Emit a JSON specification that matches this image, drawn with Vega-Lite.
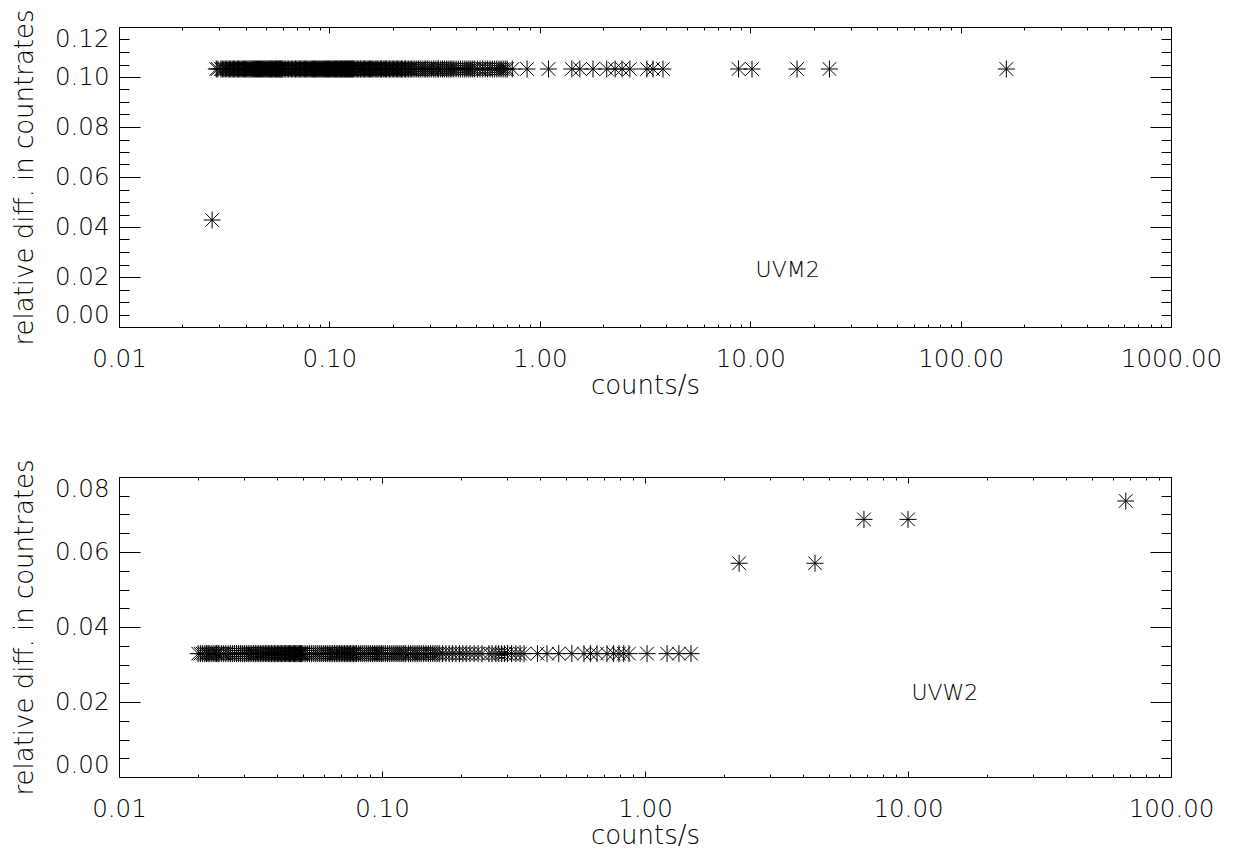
{
  "$schema": "https://vega.github.io/schema/vega-lite/v6.json",
  "background": "white",
  "padding": {"left": 11, "top": 8, "right": 5, "bottom": 5},
  "bounds": "flush",
  "spacing": 150,
  "config": {
    "view": {"stroke": null},
    "font": "DejaVu Sans",
    "axis": {
      "grid": false,
      "domainColor": "black",
      "domainWidth": 1,
      "tickColor": "black",
      "tickWidth": 1,
      "labelColor": "black",
      "titleColor": "black",
      "labelFont": "DejaVu Sans",
      "titleFont": "DejaVu Sans",
      "labelFontSize": 24.5,
      "titleFontSize": 26,
      "labelFontWeight": 200,
      "titleFontWeight": 200,
      "labelOverlap": false
    }
  },
  "datasets": {
    "uvm2": [
      {"cr": 0.0277, "rd": 0.0428},
      {"cr": 0.029, "rd": 0.1032}, {"cr": 0.0305, "rd": 0.1032}, {"cr": 0.031, "rd": 0.1032}, {"cr": 0.032, "rd": 0.1032},
      {"cr": 0.033, "rd": 0.1032}, {"cr": 0.034, "rd": 0.1032}, {"cr": 0.035, "rd": 0.1032}, {"cr": 0.036, "rd": 0.1032},
      {"cr": 0.037, "rd": 0.1032}, {"cr": 0.038, "rd": 0.1032}, {"cr": 0.039, "rd": 0.1032}, {"cr": 0.040, "rd": 0.1032},
      {"cr": 0.041, "rd": 0.1032}, {"cr": 0.042, "rd": 0.1032}, {"cr": 0.043, "rd": 0.1032}, {"cr": 0.044, "rd": 0.1032},
      {"cr": 0.045, "rd": 0.1032}, {"cr": 0.046, "rd": 0.1032}, {"cr": 0.047, "rd": 0.1032}, {"cr": 0.048, "rd": 0.1032},
      {"cr": 0.049, "rd": 0.1032}, {"cr": 0.050, "rd": 0.1032}, {"cr": 0.051, "rd": 0.1032}, {"cr": 0.052, "rd": 0.1032},
      {"cr": 0.053, "rd": 0.1032}, {"cr": 0.054, "rd": 0.1032}, {"cr": 0.055, "rd": 0.1032}, {"cr": 0.056, "rd": 0.1032},
      {"cr": 0.057, "rd": 0.1032}, {"cr": 0.058, "rd": 0.1032}, {"cr": 0.059, "rd": 0.1032}, {"cr": 0.060, "rd": 0.1032},
      {"cr": 0.062, "rd": 0.1032}, {"cr": 0.063, "rd": 0.1032}, {"cr": 0.064, "rd": 0.1032}, {"cr": 0.066, "rd": 0.1032},
      {"cr": 0.067, "rd": 0.1032}, {"cr": 0.068, "rd": 0.1032}, {"cr": 0.070, "rd": 0.1032}, {"cr": 0.071, "rd": 0.1032},
      {"cr": 0.072, "rd": 0.1032}, {"cr": 0.074, "rd": 0.1032}, {"cr": 0.075, "rd": 0.1032}, {"cr": 0.077, "rd": 0.1032},
      {"cr": 0.078, "rd": 0.1032}, {"cr": 0.080, "rd": 0.1032}, {"cr": 0.082, "rd": 0.1032}, {"cr": 0.083, "rd": 0.1032},
      {"cr": 0.085, "rd": 0.1032}, {"cr": 0.087, "rd": 0.1032}, {"cr": 0.089, "rd": 0.1032}, {"cr": 0.091, "rd": 0.1032},
      {"cr": 0.093, "rd": 0.1032}, {"cr": 0.095, "rd": 0.1032}, {"cr": 0.097, "rd": 0.1032}, {"cr": 0.099, "rd": 0.1032},
      {"cr": 0.102, "rd": 0.1032}, {"cr": 0.104, "rd": 0.1032}, {"cr": 0.107, "rd": 0.1032}, {"cr": 0.110, "rd": 0.1032},
      {"cr": 0.112, "rd": 0.1032}, {"cr": 0.115, "rd": 0.1032}, {"cr": 0.118, "rd": 0.1032}, {"cr": 0.121, "rd": 0.1032},
      {"cr": 0.124, "rd": 0.1032}, {"cr": 0.127, "rd": 0.1032}, {"cr": 0.130, "rd": 0.1032}, {"cr": 0.134, "rd": 0.1032},
      {"cr": 0.138, "rd": 0.1032}, {"cr": 0.141, "rd": 0.1032}, {"cr": 0.145, "rd": 0.1032}, {"cr": 0.149, "rd": 0.1032},
      {"cr": 0.153, "rd": 0.1032}, {"cr": 0.157, "rd": 0.1032}, {"cr": 0.161, "rd": 0.1032}, {"cr": 0.166, "rd": 0.1032},
      {"cr": 0.170, "rd": 0.1032}, {"cr": 0.175, "rd": 0.1032}, {"cr": 0.180, "rd": 0.1032}, {"cr": 0.185, "rd": 0.1032},
      {"cr": 0.190, "rd": 0.1032}, {"cr": 0.196, "rd": 0.1032}, {"cr": 0.202, "rd": 0.1032}, {"cr": 0.208, "rd": 0.1032},
      {"cr": 0.214, "rd": 0.1032}, {"cr": 0.220, "rd": 0.1032}, {"cr": 0.227, "rd": 0.1032}, {"cr": 0.234, "rd": 0.1032},
      {"cr": 0.242, "rd": 0.1032}, {"cr": 0.250, "rd": 0.1032}, {"cr": 0.260, "rd": 0.1032}, {"cr": 0.270, "rd": 0.1032},
      {"cr": 0.282, "rd": 0.1032}, {"cr": 0.292, "rd": 0.1032}, {"cr": 0.305, "rd": 0.1032}, {"cr": 0.318, "rd": 0.1032},
      {"cr": 0.330, "rd": 0.1032}, {"cr": 0.345, "rd": 0.1032}, {"cr": 0.36, "rd": 0.1032}, {"cr": 0.375, "rd": 0.1032},
      {"cr": 0.39, "rd": 0.1032}, {"cr": 0.41, "rd": 0.1032}, {"cr": 0.43, "rd": 0.1032}, {"cr": 0.45, "rd": 0.1032},
      {"cr": 0.47, "rd": 0.1032}, {"cr": 0.49, "rd": 0.1032}, {"cr": 0.52, "rd": 0.1032}, {"cr": 0.55, "rd": 0.1032},
      {"cr": 0.58, "rd": 0.1032}, {"cr": 0.61, "rd": 0.1032}, {"cr": 0.64, "rd": 0.1032}, {"cr": 0.67, "rd": 0.1032},
      {"cr": 0.70, "rd": 0.1032}, {"cr": 0.74, "rd": 0.1032}, {"cr": 0.87, "rd": 0.1032}, {"cr": 1.1, "rd": 0.1032},
      {"cr": 1.42, "rd": 0.1032}, {"cr": 1.55, "rd": 0.1032}, {"cr": 1.79, "rd": 0.1032}, {"cr": 2.08, "rd": 0.1032},
      {"cr": 2.28, "rd": 0.1032}, {"cr": 2.46, "rd": 0.1032}, {"cr": 2.68, "rd": 0.1032}, {"cr": 3.23, "rd": 0.1032},
      {"cr": 3.45, "rd": 0.1032}, {"cr": 3.85, "rd": 0.1032}, {"cr": 8.8, "rd": 0.1032}, {"cr": 10.2, "rd": 0.1032},
      {"cr": 16.7, "rd": 0.1032}, {"cr": 23.8, "rd": 0.1032}, {"cr": 165, "rd": 0.1032},
      {"cr": 0.0295, "rd": 0.1032}, {"cr": 0.0315, "rd": 0.1032}, {"cr": 0.0325, "rd": 0.1032}, {"cr": 0.0335, "rd": 0.1032},
      {"cr": 0.0345, "rd": 0.1032}, {"cr": 0.0355, "rd": 0.1032}, {"cr": 0.0365, "rd": 0.1032}, {"cr": 0.0375, "rd": 0.1032},
      {"cr": 0.0385, "rd": 0.1032}, {"cr": 0.0395, "rd": 0.1032}, {"cr": 0.0405, "rd": 0.1032}, {"cr": 0.0415, "rd": 0.1032},
      {"cr": 0.0425, "rd": 0.1032}, {"cr": 0.0435, "rd": 0.1032}, {"cr": 0.0445, "rd": 0.1032}, {"cr": 0.0455, "rd": 0.1032},
      {"cr": 0.0465, "rd": 0.1032}, {"cr": 0.0475, "rd": 0.1032}, {"cr": 0.0485, "rd": 0.1032}, {"cr": 0.0495, "rd": 0.1032},
      {"cr": 0.0505, "rd": 0.1032}, {"cr": 0.0515, "rd": 0.1032}, {"cr": 0.0525, "rd": 0.1032}, {"cr": 0.0535, "rd": 0.1032},
      {"cr": 0.0545, "rd": 0.1032}, {"cr": 0.0555, "rd": 0.1032}, {"cr": 0.0565, "rd": 0.1032}, {"cr": 0.0575, "rd": 0.1032},
      {"cr": 0.0585, "rd": 0.1032}, {"cr": 0.0595, "rd": 0.1032}, {"cr": 0.061, "rd": 0.1032}, {"cr": 0.065, "rd": 0.1032},
      {"cr": 0.069, "rd": 0.1032}, {"cr": 0.073, "rd": 0.1032}, {"cr": 0.076, "rd": 0.1032}, {"cr": 0.079, "rd": 0.1032},
      {"cr": 0.081, "rd": 0.1032}, {"cr": 0.084, "rd": 0.1032}, {"cr": 0.086, "rd": 0.1032}, {"cr": 0.088, "rd": 0.1032},
      {"cr": 0.090, "rd": 0.1032}, {"cr": 0.092, "rd": 0.1032}, {"cr": 0.094, "rd": 0.1032}, {"cr": 0.096, "rd": 0.1032},
      {"cr": 0.098, "rd": 0.1032}, {"cr": 0.100, "rd": 0.1032}, {"cr": 0.101, "rd": 0.1032}, {"cr": 0.103, "rd": 0.1032},
      {"cr": 0.105, "rd": 0.1032}, {"cr": 0.106, "rd": 0.1032}, {"cr": 0.108, "rd": 0.1032}, {"cr": 0.109, "rd": 0.1032},
      {"cr": 0.111, "rd": 0.1032}, {"cr": 0.113, "rd": 0.1032}, {"cr": 0.114, "rd": 0.1032}, {"cr": 0.116, "rd": 0.1032},
      {"cr": 0.117, "rd": 0.1032}, {"cr": 0.119, "rd": 0.1032}, {"cr": 0.120, "rd": 0.1032}, {"cr": 0.122, "rd": 0.1032},
      {"cr": 0.123, "rd": 0.1032}, {"cr": 0.125, "rd": 0.1032}, {"cr": 0.126, "rd": 0.1032}, {"cr": 0.128, "rd": 0.1032},
      {"cr": 0.129, "rd": 0.1032}, {"cr": 0.132, "rd": 0.1032}, {"cr": 0.136, "rd": 0.1032}, {"cr": 0.140, "rd": 0.1032},
      {"cr": 0.143, "rd": 0.1032}, {"cr": 0.147, "rd": 0.1032}, {"cr": 0.151, "rd": 0.1032}, {"cr": 0.155, "rd": 0.1032},
      {"cr": 0.159, "rd": 0.1032}, {"cr": 0.163, "rd": 0.1032}, {"cr": 0.168, "rd": 0.1032}, {"cr": 0.172, "rd": 0.1032},
      {"cr": 0.177, "rd": 0.1032}, {"cr": 0.182, "rd": 0.1032}, {"cr": 0.187, "rd": 0.1032}, {"cr": 0.193, "rd": 0.1032},
      {"cr": 0.199, "rd": 0.1032}, {"cr": 0.205, "rd": 0.1032}, {"cr": 0.211, "rd": 0.1032}, {"cr": 0.217, "rd": 0.1032},
      {"cr": 0.223, "rd": 0.1032}, {"cr": 0.230, "rd": 0.1032}, {"cr": 0.238, "rd": 0.1032}, {"cr": 0.246, "rd": 0.1032},
      {"cr": 0.255, "rd": 0.1032}, {"cr": 0.265, "rd": 0.1032}, {"cr": 0.276, "rd": 0.1032}, {"cr": 0.287, "rd": 0.1032},
      {"cr": 0.298, "rd": 0.1032}, {"cr": 0.312, "rd": 0.1032}, {"cr": 0.325, "rd": 0.1032}, {"cr": 0.338, "rd": 0.1032},
      {"cr": 0.352, "rd": 0.1032}, {"cr": 0.367, "rd": 0.1032}, {"cr": 0.382, "rd": 0.1032}, {"cr": 0.40, "rd": 0.1032},
      {"cr": 0.42, "rd": 0.1032}, {"cr": 0.44, "rd": 0.1032}, {"cr": 0.46, "rd": 0.1032}, {"cr": 0.48, "rd": 0.1032},
      {"cr": 0.505, "rd": 0.1032}, {"cr": 0.535, "rd": 0.1032}, {"cr": 0.565, "rd": 0.1032}, {"cr": 0.595, "rd": 0.1032},
      {"cr": 0.625, "rd": 0.1032}, {"cr": 0.655, "rd": 0.1032}, {"cr": 0.685, "rd": 0.1032}
    ],
    "uvw2": [
      {"cr": 0.0200, "rd": 0.0329}, {"cr": 0.0208, "rd": 0.0329}, {"cr": 0.0215, "rd": 0.0329}, {"cr": 0.0220, "rd": 0.0329},
      {"cr": 0.0228, "rd": 0.0329}, {"cr": 0.0235, "rd": 0.0329}, {"cr": 0.0240, "rd": 0.0329}, {"cr": 0.0250, "rd": 0.0329},
      {"cr": 0.026, "rd": 0.0329}, {"cr": 0.027, "rd": 0.0329}, {"cr": 0.028, "rd": 0.0329}, {"cr": 0.029, "rd": 0.0329},
      {"cr": 0.030, "rd": 0.0329}, {"cr": 0.031, "rd": 0.0329}, {"cr": 0.032, "rd": 0.0329}, {"cr": 0.033, "rd": 0.0329},
      {"cr": 0.034, "rd": 0.0329}, {"cr": 0.035, "rd": 0.0329}, {"cr": 0.036, "rd": 0.0329}, {"cr": 0.037, "rd": 0.0329},
      {"cr": 0.038, "rd": 0.0329}, {"cr": 0.039, "rd": 0.0329}, {"cr": 0.040, "rd": 0.0329}, {"cr": 0.041, "rd": 0.0329},
      {"cr": 0.042, "rd": 0.0329}, {"cr": 0.043, "rd": 0.0329}, {"cr": 0.044, "rd": 0.0329}, {"cr": 0.045, "rd": 0.0329},
      {"cr": 0.046, "rd": 0.0329}, {"cr": 0.047, "rd": 0.0329}, {"cr": 0.048, "rd": 0.0329}, {"cr": 0.049, "rd": 0.0329},
      {"cr": 0.050, "rd": 0.0329}, {"cr": 0.052, "rd": 0.0329}, {"cr": 0.053, "rd": 0.0329}, {"cr": 0.055, "rd": 0.0329},
      {"cr": 0.056, "rd": 0.0329}, {"cr": 0.058, "rd": 0.0329}, {"cr": 0.060, "rd": 0.0329}, {"cr": 0.062, "rd": 0.0329},
      {"cr": 0.064, "rd": 0.0329}, {"cr": 0.066, "rd": 0.0329}, {"cr": 0.068, "rd": 0.0329}, {"cr": 0.070, "rd": 0.0329},
      {"cr": 0.072, "rd": 0.0329}, {"cr": 0.074, "rd": 0.0329}, {"cr": 0.076, "rd": 0.0329}, {"cr": 0.078, "rd": 0.0329},
      {"cr": 0.080, "rd": 0.0329}, {"cr": 0.083, "rd": 0.0329}, {"cr": 0.086, "rd": 0.0329}, {"cr": 0.089, "rd": 0.0329},
      {"cr": 0.092, "rd": 0.0329}, {"cr": 0.095, "rd": 0.0329}, {"cr": 0.098, "rd": 0.0329}, {"cr": 0.101, "rd": 0.0329},
      {"cr": 0.105, "rd": 0.0329}, {"cr": 0.109, "rd": 0.0329}, {"cr": 0.113, "rd": 0.0329}, {"cr": 0.117, "rd": 0.0329},
      {"cr": 0.121, "rd": 0.0329}, {"cr": 0.126, "rd": 0.0329}, {"cr": 0.131, "rd": 0.0329}, {"cr": 0.136, "rd": 0.0329},
      {"cr": 0.141, "rd": 0.0329}, {"cr": 0.147, "rd": 0.0329}, {"cr": 0.153, "rd": 0.0329}, {"cr": 0.159, "rd": 0.0329},
      {"cr": 0.165, "rd": 0.0329}, {"cr": 0.175, "rd": 0.0329}, {"cr": 0.185, "rd": 0.0329}, {"cr": 0.197, "rd": 0.0329},
      {"cr": 0.209, "rd": 0.0329}, {"cr": 0.224, "rd": 0.0329}, {"cr": 0.240, "rd": 0.0329}, {"cr": 0.255, "rd": 0.0329},
      {"cr": 0.271, "rd": 0.0329}, {"cr": 0.285, "rd": 0.0329}, {"cr": 0.300, "rd": 0.0329}, {"cr": 0.323, "rd": 0.0329},
      {"cr": 0.347, "rd": 0.0329}, {"cr": 0.39, "rd": 0.0329}, {"cr": 0.424, "rd": 0.0329}, {"cr": 0.47, "rd": 0.0329},
      {"cr": 0.527, "rd": 0.0329}, {"cr": 0.586, "rd": 0.0329}, {"cr": 0.62, "rd": 0.0329}, {"cr": 0.657, "rd": 0.0329},
      {"cr": 0.717, "rd": 0.0329}, {"cr": 0.76, "rd": 0.0329}, {"cr": 0.796, "rd": 0.0329}, {"cr": 0.83, "rd": 0.0329},
      {"cr": 0.869, "rd": 0.0329}, {"cr": 1.018, "rd": 0.0329}, {"cr": 1.213, "rd": 0.0329}, {"cr": 1.346, "rd": 0.0329},
      {"cr": 1.496, "rd": 0.0329},
      {"cr": 0.0204, "rd": 0.0329}, {"cr": 0.0212, "rd": 0.0329}, {"cr": 0.0218, "rd": 0.0329}, {"cr": 0.0224, "rd": 0.0329},
      {"cr": 0.0232, "rd": 0.0329}, {"cr": 0.0238, "rd": 0.0329}, {"cr": 0.0245, "rd": 0.0329}, {"cr": 0.0255, "rd": 0.0329},
      {"cr": 0.0265, "rd": 0.0329}, {"cr": 0.0275, "rd": 0.0329}, {"cr": 0.0285, "rd": 0.0329}, {"cr": 0.0295, "rd": 0.0329},
      {"cr": 0.0305, "rd": 0.0329}, {"cr": 0.0315, "rd": 0.0329}, {"cr": 0.0325, "rd": 0.0329}, {"cr": 0.0335, "rd": 0.0329},
      {"cr": 0.0345, "rd": 0.0329}, {"cr": 0.0355, "rd": 0.0329}, {"cr": 0.0365, "rd": 0.0329}, {"cr": 0.0375, "rd": 0.0329},
      {"cr": 0.0385, "rd": 0.0329}, {"cr": 0.0395, "rd": 0.0329}, {"cr": 0.0405, "rd": 0.0329}, {"cr": 0.0415, "rd": 0.0329},
      {"cr": 0.0425, "rd": 0.0329}, {"cr": 0.0435, "rd": 0.0329}, {"cr": 0.0445, "rd": 0.0329}, {"cr": 0.0455, "rd": 0.0329},
      {"cr": 0.0465, "rd": 0.0329}, {"cr": 0.0475, "rd": 0.0329}, {"cr": 0.0485, "rd": 0.0329}, {"cr": 0.0495, "rd": 0.0329},
      {"cr": 0.051, "rd": 0.0329}, {"cr": 0.054, "rd": 0.0329}, {"cr": 0.057, "rd": 0.0329}, {"cr": 0.059, "rd": 0.0329},
      {"cr": 0.061, "rd": 0.0329}, {"cr": 0.063, "rd": 0.0329}, {"cr": 0.065, "rd": 0.0329}, {"cr": 0.067, "rd": 0.0329},
      {"cr": 0.069, "rd": 0.0329}, {"cr": 0.071, "rd": 0.0329}, {"cr": 0.073, "rd": 0.0329}, {"cr": 0.075, "rd": 0.0329},
      {"cr": 0.077, "rd": 0.0329}, {"cr": 0.079, "rd": 0.0329}, {"cr": 0.0815, "rd": 0.0329}, {"cr": 0.0845, "rd": 0.0329},
      {"cr": 0.0875, "rd": 0.0329}, {"cr": 0.0905, "rd": 0.0329}, {"cr": 0.0935, "rd": 0.0329}, {"cr": 0.0965, "rd": 0.0329},
      {"cr": 0.0995, "rd": 0.0329}, {"cr": 0.103, "rd": 0.0329}, {"cr": 0.107, "rd": 0.0329}, {"cr": 0.111, "rd": 0.0329},
      {"cr": 0.115, "rd": 0.0329}, {"cr": 0.119, "rd": 0.0329}, {"cr": 0.123, "rd": 0.0329}, {"cr": 0.1285, "rd": 0.0329},
      {"cr": 0.1335, "rd": 0.0329}, {"cr": 0.1385, "rd": 0.0329}, {"cr": 0.144, "rd": 0.0329}, {"cr": 0.150, "rd": 0.0329},
      {"cr": 0.156, "rd": 0.0329}, {"cr": 0.162, "rd": 0.0329}, {"cr": 0.170, "rd": 0.0329}, {"cr": 0.180, "rd": 0.0329},
      {"cr": 0.191, "rd": 0.0329}, {"cr": 0.203, "rd": 0.0329}, {"cr": 0.216, "rd": 0.0329}, {"cr": 0.232, "rd": 0.0329},
      {"cr": 0.262, "rd": 0.0329}, {"cr": 0.278, "rd": 0.0329}, {"cr": 0.292, "rd": 0.0329}, {"cr": 0.311, "rd": 0.0329},
      {"cr": 0.335, "rd": 0.0329},
      {"cr": 2.28, "rd": 0.057}, {"cr": 4.43, "rd": 0.057}, {"cr": 6.8, "rd": 0.0687}, {"cr": 10.0, "rd": 0.0687},
      {"cr": 67.3, "rd": 0.0736}
    ],
    "lab1": [{"label": "UVM2", "cr": 10.6, "rd": 0.0228}],
    "lab2": [{"label": "UVW2", "cr": 10.3, "rd": 0.0223}]
  },
  "vconcat": [
    {
      "width": 1052,
      "height": 300,
      "data": {"name": "uvm2"},
      "resolve": {"axis": {"x": "independent", "y": "independent"}},
      "layer": [
        {
          "mark": {"type": "point", "shape": "M-1,0L1,0M0,-1L0,1M-0.8,-0.8L0.8,0.8M-0.8,0.8L0.8,-0.8", "filled": false, "stroke": "black", "strokeWidth": 1, "size": 289, "opacity": 1},
          "encoding": {
            "x": {"field": "cr", "type": "quantitative", "scale": {"type": "log", "domain": [0.01, 1000], "nice": false},
              "axis": {"orient": "bottom", "values": [0.01, 0.1, 1, 10, 100, 1000], "format": ".2f", "tickSize": -6, "labelPadding": 26, "labelFlush": false, "title": "counts/s", "titlePadding": 2}},
            "y": {"field": "rd", "type": "quantitative", "scale": {"domain": [0, 0.12], "nice": false, "zero": false},
              "axis": {"orient": "left", "values": [0, 0.02, 0.04, 0.06, 0.08, 0.1, 0.12], "format": ".2f", "tickSize": -21, "labelPadding": 31, "labelFlush": true, "title": "relative diff. in countrates", "titlePadding": 17}}
          }
        },
        {
          "mark": {"type": "point", "opacity": 0},
          "encoding": {
            "x": {"field": "cr", "type": "quantitative",
              "axis": {"orient": "bottom", "values": [0.02, 0.03, 0.04, 0.05, 0.06, 0.07, 0.08, 0.09, 0.2, 0.3, 0.4, 0.5, 0.6, 0.7, 0.8, 0.9, 2, 3, 4, 5, 6, 7, 8, 9, 20, 30, 40, 50, 60, 70, 80, 90, 200, 300, 400, 500, 600, 700, 800, 900], "labels": false, "tickSize": -3, "domain": false, "title": null}},
            "y": {"field": "rd", "type": "quantitative",
              "axis": {"orient": "left", "values": [0.005, 0.01, 0.015, 0.025, 0.03, 0.035, 0.045, 0.05, 0.055, 0.065, 0.07, 0.075, 0.085, 0.09, 0.095, 0.105, 0.11, 0.115], "labels": false, "tickSize": -10, "domain": false, "title": null}}
          }
        },
        {
          "mark": {"type": "point", "opacity": 0},
          "encoding": {
            "x": {"field": "cr", "type": "quantitative",
              "axis": {"orient": "top", "values": [0.01, 0.1, 1, 10, 100, 1000], "labels": false, "tickSize": -6, "title": null}},
            "y": {"field": "rd", "type": "quantitative",
              "axis": {"orient": "right", "values": [0, 0.02, 0.04, 0.06, 0.08, 0.1, 0.12], "labels": false, "tickSize": -21, "title": null}}
          }
        },
        {
          "mark": {"type": "point", "opacity": 0},
          "encoding": {
            "x": {"field": "cr", "type": "quantitative",
              "axis": {"orient": "top", "values": [0.02, 0.03, 0.04, 0.05, 0.06, 0.07, 0.08, 0.09, 0.2, 0.3, 0.4, 0.5, 0.6, 0.7, 0.8, 0.9, 2, 3, 4, 5, 6, 7, 8, 9, 20, 30, 40, 50, 60, 70, 80, 90, 200, 300, 400, 500, 600, 700, 800, 900], "labels": false, "tickSize": -3, "domain": false, "title": null}},
            "y": {"field": "rd", "type": "quantitative",
              "axis": {"orient": "right", "values": [0.005, 0.01, 0.015, 0.025, 0.03, 0.035, 0.045, 0.05, 0.055, 0.065, 0.07, 0.075, 0.085, 0.09, 0.095, 0.105, 0.11, 0.115], "labels": false, "tickSize": -10, "domain": false, "title": null}}
          }
        },
        {
          "data": {"name": "lab1"},
          "mark": {"type": "text", "align": "left", "baseline": "middle", "fontSize": 22, "fontWeight": 200, "color": "black"},
          "encoding": {
            "x": {"field": "cr", "type": "quantitative", "axis": null},
            "y": {"field": "rd", "type": "quantitative", "axis": null},
            "text": {"field": "label"}
          }
        }
      ]
    },
    {
      "width": 1052,
      "height": 300,
      "data": {"name": "uvw2"},
      "resolve": {"axis": {"x": "independent", "y": "independent"}},
      "layer": [
        {
          "mark": {"type": "point", "shape": "M-1,0L1,0M0,-1L0,1M-0.8,-0.8L0.8,0.8M-0.8,0.8L0.8,-0.8", "filled": false, "stroke": "black", "strokeWidth": 1, "size": 289, "opacity": 1},
          "encoding": {
            "x": {"field": "cr", "type": "quantitative", "scale": {"type": "log", "domain": [0.01, 100], "nice": false},
              "axis": {"orient": "bottom", "values": [0.01, 0.1, 1, 10, 100], "format": ".2f", "tickSize": -6, "labelPadding": 26, "labelFlush": false, "title": "counts/s", "titlePadding": 2}},
            "y": {"field": "rd", "type": "quantitative", "scale": {"domain": [0, 0.08], "nice": false, "zero": false},
              "axis": {"orient": "left", "values": [0, 0.02, 0.04, 0.06, 0.08], "format": ".2f", "tickSize": -21, "labelPadding": 31, "labelFlush": true, "title": "relative diff. in countrates", "titlePadding": 17}}
          }
        },
        {
          "mark": {"type": "point", "opacity": 0},
          "encoding": {
            "x": {"field": "cr", "type": "quantitative",
              "axis": {"orient": "bottom", "values": [0.02, 0.03, 0.04, 0.05, 0.06, 0.07, 0.08, 0.09, 0.2, 0.3, 0.4, 0.5, 0.6, 0.7, 0.8, 0.9, 2, 3, 4, 5, 6, 7, 8, 9, 20, 30, 40, 50, 60, 70, 80, 90], "labels": false, "tickSize": -3, "domain": false, "title": null}},
            "y": {"field": "rd", "type": "quantitative",
              "axis": {"orient": "left", "values": [0.005, 0.01, 0.015, 0.025, 0.03, 0.035, 0.045, 0.05, 0.055, 0.065, 0.07, 0.075], "labels": false, "tickSize": -10, "domain": false, "title": null}}
          }
        },
        {
          "mark": {"type": "point", "opacity": 0},
          "encoding": {
            "x": {"field": "cr", "type": "quantitative",
              "axis": {"orient": "top", "values": [0.01, 0.1, 1, 10, 100], "labels": false, "tickSize": -6, "title": null}},
            "y": {"field": "rd", "type": "quantitative",
              "axis": {"orient": "right", "values": [0, 0.02, 0.04, 0.06, 0.08], "labels": false, "tickSize": -21, "title": null}}
          }
        },
        {
          "mark": {"type": "point", "opacity": 0},
          "encoding": {
            "x": {"field": "cr", "type": "quantitative",
              "axis": {"orient": "top", "values": [0.02, 0.03, 0.04, 0.05, 0.06, 0.07, 0.08, 0.09, 0.2, 0.3, 0.4, 0.5, 0.6, 0.7, 0.8, 0.9, 2, 3, 4, 5, 6, 7, 8, 9, 20, 30, 40, 50, 60, 70, 80, 90], "labels": false, "tickSize": -3, "domain": false, "title": null}},
            "y": {"field": "rd", "type": "quantitative",
              "axis": {"orient": "right", "values": [0.005, 0.01, 0.015, 0.025, 0.03, 0.035, 0.045, 0.05, 0.055, 0.065, 0.07, 0.075], "labels": false, "tickSize": -10, "domain": false, "title": null}}
          }
        },
        {
          "data": {"name": "lab2"},
          "mark": {"type": "text", "align": "left", "baseline": "middle", "fontSize": 22, "fontWeight": 200, "color": "black"},
          "encoding": {
            "x": {"field": "cr", "type": "quantitative", "axis": null},
            "y": {"field": "rd", "type": "quantitative", "axis": null},
            "text": {"field": "label"}
          }
        }
      ]
    }
  ]
}
